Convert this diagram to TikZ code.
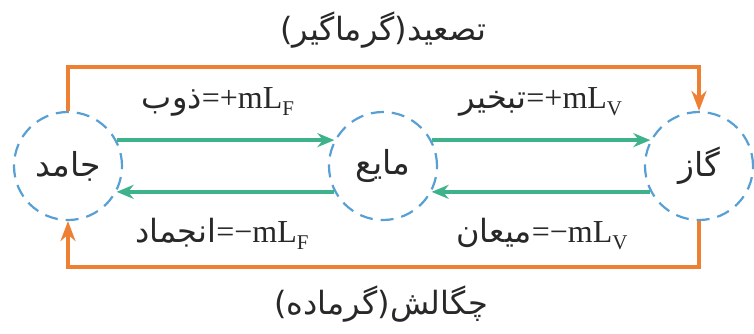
\documentclass[tikz,border=0pt]{standalone}
\usepackage{fontspec}
\setmainfont{Liberation Serif}
\newfontfamily\arabicfont[Script=Arabic]{DejaVu Sans}
\TeXXeTstate=1
\usepackage{tikz}
\usetikzlibrary{arrows.meta,calc}
\definecolor{heat}{RGB}{238,128,52}
\definecolor{phase}{RGB}{62,178,138}
\definecolor{ring}{RGB}{88,160,212}
\definecolor{ink}{RGB}{40,40,40}
\newcommand{\fa}[1]{{\fontsize{32}{34}\selectfont\arabicfont\beginR #1\endR}}
\newcommand{\lsub}[1]{\raisebox{-.45ex}{\fontsize{21}{21}\selectfont #1}}

\begin{document}
\begin{tikzpicture}[x=1pt, y=-1pt,
  state/.style={circle, draw=ring, line width=2.2pt, dash pattern=on 13pt off 8pt,
    minimum size=108pt, inner sep=0pt, text=ink, font=\fontsize{33}{34}\selectfont\arabicfont},
  flow/.style={draw=phase, line width=3.4pt, -{Stealth[length=17pt,width=14pt]}},
  heatflow/.style={draw=heat, line width=3.4pt, -{Stealth[length=20pt,width=15pt]}},
  lbl/.style={text=ink, font=\fontsize{32}{34}\selectfont, inner sep=0pt}]
  \useasboundingbox (0,0) rectangle (754,333);
  \node[state] (sol) at (68,166) {\beginR جامد\endR};
  \node[state] (liq) at (383,166) {\beginR مایع\endR};
  \node[state] (gas) at (699,166) {\beginR گاز\endR};
  % melting / vaporising
  \draw[flow] (sol.28) -- (liq.152);
  \draw[flow] (liq.28) -- (gas.152);
  % freezing / condensing
  \draw[flow] (liq.208) -- (sol.-28);
  \draw[flow] (gas.208) -- (liq.-28);
  % sublimation / deposition
  \draw[heatflow] (sol.north) -- ++(0,-44) -| (gas.north);
  \draw[heatflow] (gas.south) -- ++(0,46) -| (sol.south);
  \node[lbl] (tmelt) at (218,102) {\fa{ذوب}=+mL\lsub{F}};
  \node[lbl] (tvap) at (541,102) {\fa{تبخیر}=+mL\lsub{V}};
  \node[lbl] (tfrz) at (222,234) {\fa{انجماد}=−mL\lsub{F}};
  \node[lbl] (tcond) at (542,234) {\fa{میعان}=−mL\lsub{V}};
  \node[lbl] (tsub) at (383,30) {\fa{تصعید(گرماگیر)}};
  \node[lbl] (tdep) at (381,304) {\fa{چگالش(گرماده)}};
\end{tikzpicture}
\end{document}
